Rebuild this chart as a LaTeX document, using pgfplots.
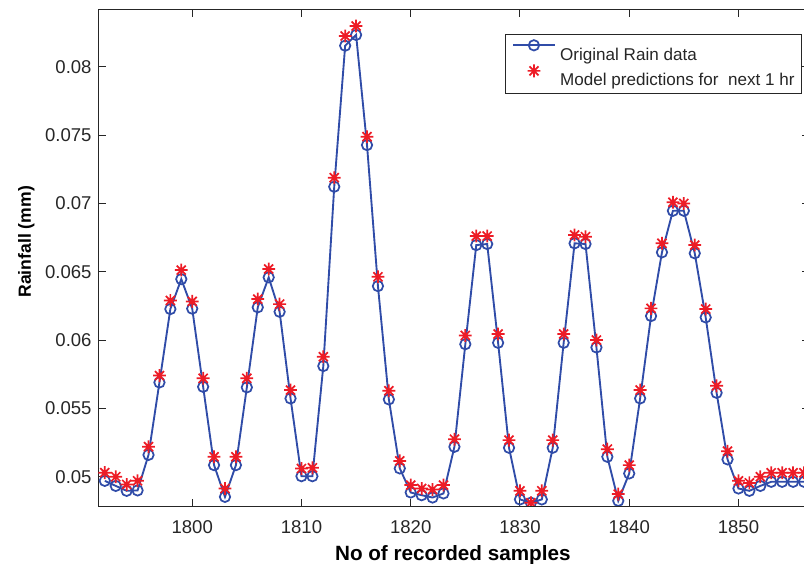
\documentclass[border=0pt]{standalone}
\usepackage{pgfplots}
\pgfplotsset{compat=1.18}
\usepackage{pgfplotstable}
\usepackage{fontspec}
\setmainfont{Liberation Sans}

\definecolor{rainblue}{rgb}{0.19,0.30,0.66}
\definecolor{predred}{rgb}{0.93,0.11,0.15}
\definecolor{axgray}{rgb}{0.15,0.15,0.15}

% MATLAB style 8-armed asterisk
\pgfdeclareplotmark{star8}{%
  \pgfpathmoveto{\pgfqpoint{-\pgfplotmarksize}{0pt}}%
  \pgfpathlineto{\pgfqpoint{\pgfplotmarksize}{0pt}}%
  \pgfpathmoveto{\pgfqpoint{0pt}{-\pgfplotmarksize}}%
  \pgfpathlineto{\pgfqpoint{0pt}{\pgfplotmarksize}}%
  \pgfpathmoveto{\pgfqpoint{-0.707\pgfplotmarksize}{-0.707\pgfplotmarksize}}%
  \pgfpathlineto{\pgfqpoint{0.707\pgfplotmarksize}{0.707\pgfplotmarksize}}%
  \pgfpathmoveto{\pgfqpoint{-0.707\pgfplotmarksize}{0.707\pgfplotmarksize}}%
  \pgfpathlineto{\pgfqpoint{0.707\pgfplotmarksize}{-0.707\pgfplotmarksize}}%
  \pgfusepathqstroke}

\pgfplotsset{
  origlegend/.style={legend image code/.code={
      \draw[##1] (0pt,5pt) -- (31pt,5pt);
      \draw[##1] plot coordinates {(15.5pt,5pt)};}},
  predlegend/.style={legend image code/.code={
      \draw[##1] plot coordinates {(15.5pt,4.5pt)};}},
}

% sample, original, predicted
\pgfplotstableread{
x orig pred
1792 0.04970 0.05030
1793 0.04933 0.05000
1794 0.04897 0.04944
1795 0.04900 0.04970
1796 0.05160 0.05220
1797 0.05690 0.05740
1798 0.06227 0.06290
1799 0.06446 0.06512
1800 0.06230 0.06283
1801 0.05658 0.05720
1802 0.05085 0.05146
1803 0.04853 0.04914
1804 0.05085 0.05146
1805 0.05654 0.05720
1806 0.06240 0.06300
1807 0.06459 0.06520
1808 0.06207 0.06263
1809 0.05573 0.05634
1810 0.05004 0.05060
1811 0.05004 0.05065
1812 0.05810 0.05878
1813 0.07122 0.07188
1814 0.08154 0.08225
1815 0.08233 0.08298
1816 0.07427 0.07488
1817 0.06395 0.06463
1818 0.05566 0.05629
1819 0.05061 0.05116
1820 0.04885 0.04939
1821 0.04865 0.04914
1822 0.04848 0.04907
1823 0.04878 0.04939
1824 0.05219 0.05275
1825 0.05970 0.06034
1826 0.06695 0.06761
1827 0.06703 0.06761
1828 0.05980 0.06044
1829 0.05212 0.05268
1830 0.04834 0.04897
1831 0.04810 0.04810
1832 0.04834 0.04897
1833 0.05212 0.05268
1834 0.05980 0.06044
1835 0.06708 0.06769
1836 0.06703 0.06756
1837 0.05946 0.06000
1838 0.05146 0.05202
1839 0.04824 0.04873
1840 0.05024 0.05085
1841 0.05573 0.05634
1842 0.06176 0.06232
1843 0.06642 0.06708
1844 0.06946 0.07008
1845 0.06946 0.07000
1846 0.06635 0.06695
1847 0.06166 0.06227
1848 0.05614 0.05665
1849 0.05127 0.05187
1850 0.04914 0.04970
1851 0.04897 0.04955
1852 0.04933 0.05000
1853 0.04963 0.05029
1854 0.04963 0.05029
1855 0.04963 0.05029
1856 0.04963 0.05029
}\raindata

\begin{document}
\begin{tikzpicture}
\begin{axis}[
    name=ax,
    at={(0,0)}, anchor=south west,
    scale only axis,
    width=533.4pt, height=372.5pt,
    xmin=1791.4, xmax=1856.5,
    ymin=0.04786, ymax=0.0842,
    xtick={1800,1810,...,1850},
    ytick={0.05,0.055,...,0.0801},
    scaled y ticks=false,
    /pgf/number format/assume math mode=true,
    xticklabel style={/pgf/number format/1000 sep={}, yshift=-7.5pt},
    yticklabel style={/pgf/number format/fixed, /pgf/number format/precision=3, xshift=-1.5pt},
    tick label style={font=\fontsize{13.9}{16}\selectfont, text=axgray},
    tick align=inside,
    major tick length=5.6pt,
    axis line style={axgray, line width=0.7pt},
    every tick/.style={axgray, line width=0.7pt},
    xlabel={\bfseries No of recorded samples},
    xlabel style={font=\fontsize{15.5}{18}\selectfont, at={(axis description cs:0.4985,0)}, anchor=base, yshift=-41pt},
    ylabel={\bfseries Rainfall (mm)},
    ylabel style={font=\fontsize{13.2}{15}\selectfont, at={(axis description cs:-0.1013,0.532)}, anchor=center},
    clip marker paths=true,
    legend cell align=left,
    legend style={
        at={(axis description cs:0.989,0.9497)}, anchor=north east,
        draw=axgray, line width=0.7pt,
        font=\fontsize{12.8}{15}\selectfont,
        inner xsep=5pt, inner ysep=4pt,
        row sep=0.75pt, column sep=3.5pt,
        nodes={inner sep=0pt, text height=14.75pt, text depth=2.5pt, text=axgray},
    },
]
\addplot[color=rainblue, line width=1.4pt, mark=o, mark size=3.9pt,
    mark options={line width=1.3pt}, origlegend
    ] table[x=x, y=orig] {\raindata};
\addlegendentry{Original Rain data}
\addplot[only marks, color=predred, mark=star8, mark size=4.8pt,
    mark options={line width=1.3pt}, predlegend
    ] table[x=x, y=pred] {\raindata};
\addlegendentry{Model predictions for\ \ next 1 hr}
\end{axis}
\pgfresetboundingbox
\useasboundingbox (-73.7pt,-43.5pt) rectangle (529.3pt,379.5pt);
\end{tikzpicture}
\end{document}
